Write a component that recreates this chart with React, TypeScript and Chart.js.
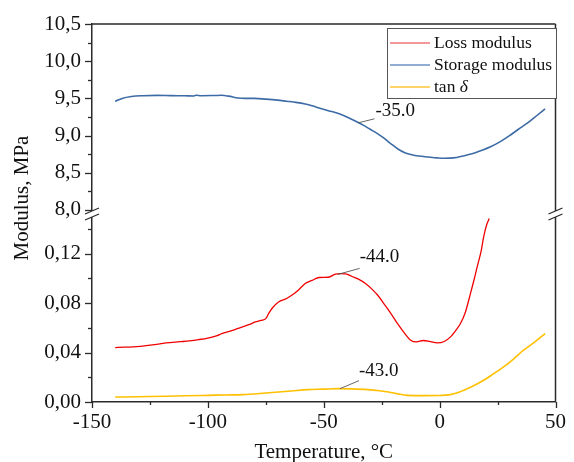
import { useEffect, useRef } from 'react';
import { Chart, registerables } from 'chart.js';

Chart.register(...registerables);

// ---- Data ----
const storageT = [-140, -137, -133, -128, -122, -116, -110, -106, -105, -103, -98, -94, -91, -87, -84, -80, -75, -70, -66, -62, -58, -55, -52, -48, -44, -40, -36, -33, -30, -27, -24, -21, -18, -15, -12, -9, -5, -1, 2, 6, 10, 14, 18, 22, 26, 30, 34, 38, 42, 45.5];
const storageValues = [9.46, 9.5, 9.525, 9.536, 9.54, 9.537, 9.535, 9.533, 9.542, 9.536, 9.538, 9.542, 9.53, 9.505, 9.5, 9.5, 9.49, 9.477, 9.462, 9.447, 9.425, 9.4, 9.372, 9.335, 9.3, 9.25, 9.19, 9.14, 9.085, 9.03, 8.965, 8.89, 8.82, 8.77, 8.742, 8.725, 8.712, 8.7, 8.695, 8.7, 8.725, 8.755, 8.8, 8.85, 8.915, 8.995, 9.085, 9.17, 9.27, 9.36];

const lossT = [-140, -136, -132, -129, -124, -118, -112, -108, -104, -100, -96, -94, -90, -87, -85, -82, -79.5, -77, -75, -73.5, -72, -69.5, -66, -63.8, -61, -58, -55, -52, -48, -45, -42.5, -40, -38, -35, -32, -29, -26.7, -24, -21, -18, -15, -12.5, -10, -7, -4, -1, 2, 4.7, 7, 9, 11, 13.3, 15, 16.2, 18, 19, 20.3, 21.4];
const lossValues = [0.0441, 0.0444, 0.0446, 0.0451, 0.0462, 0.0478, 0.0488, 0.0495, 0.0505, 0.0518, 0.0538, 0.0554, 0.0575, 0.0596, 0.0608, 0.0628, 0.0648, 0.066, 0.0675, 0.0725, 0.0765, 0.081, 0.0838, 0.0864, 0.0905, 0.0959, 0.0985, 0.1008, 0.101, 0.1035, 0.104, 0.1035, 0.1018, 0.0995, 0.0959, 0.091, 0.0864, 0.0795, 0.0716, 0.063, 0.0554, 0.05, 0.0486, 0.0498, 0.0488, 0.0478, 0.049, 0.0527, 0.058, 0.0635, 0.072, 0.0878, 0.1, 0.1094, 0.123, 0.1337, 0.1435, 0.1486];

const tanT = [-140, -130, -118, -110, -100, -92, -85, -75, -64, -57, -50, -44, -38, -31, -26, -22, -18, -14, -7, 0, 4.7, 8, 10.4, 14, 19, 23, 27.6, 32, 36.2, 41, 45.5];
const tanValues = [0.004, 0.0043, 0.0046, 0.005, 0.0054, 0.0057, 0.006, 0.0073, 0.0089, 0.01, 0.0104, 0.0108, 0.0106, 0.01, 0.0091, 0.0081, 0.0066, 0.0054, 0.0052, 0.0053, 0.006, 0.0077, 0.0095, 0.0125, 0.0176, 0.0225, 0.0284, 0.035, 0.0419, 0.0485, 0.0554];

const seriesLabels = ['Loss modulus', 'Storage modulus', 'tan δ'];

const xTicks = [-150, -100, -50, 0, 50];
const xMinorTicks = [-125, -75, -25, 25];
const yTopTicks = [8.0, 8.5, 9.0, 9.5, 10.0, 10.5];
const yTopMinorTicks = [8.25, 8.75, 9.25, 9.75, 10.25];
const yBotTicks = [0.0, 0.04, 0.08, 0.12];
const yBotMinorTicks = [0.02, 0.06, 0.1, 0.14];

// peak annotations: temperature, value at that temperature, text
const annotationT = [-35, -44, -43];
const annotationValues = [9.172, 0.1033, 0.0108];
const annotationTexts = ['-35.0', '-44.0', '-43.0'];
const annotationAxes = ['yTop', 'yBot', 'yBot'];

const FAMILY = "'Liberation Serif', 'Times New Roman', serif";
const COLORS = ['#f00000', '#3d6ba6', '#ffc000'];
const LEGEND_COLORS = ['#f07474', '#6e92c4', '#ffc73a'];
const AXIS_COLOR = '#2a2a2a';

const toXY = (t: number[], v: number[]) => t.map((x, i) => ({ x, y: v[i] }));

const framePlugin = {
  id: 'frameDecor',
  afterDraw(chart: any) {
    const { ctx, chartArea, scales } = chart;
    const { left, right, top, bottom } = chartArea;
    const sx = scales.x;
    const st = scales.yTop;
    const sb = scales.yBot;
    const breakY = st.bottom;
    ctx.save();

    // top and right frame lines
    ctx.strokeStyle = AXIS_COLOR;
    ctx.lineWidth = 1.5;
    ctx.beginPath();
    ctx.moveTo(left, top);
    ctx.lineTo(right, top);
    ctx.moveTo(right, top);
    ctx.lineTo(right, bottom);
    ctx.stroke();

    // tick marks (outward)
    ctx.lineWidth = 1.3;
    const vTick = (vals: number[], len: number) => {
      vals.forEach((v) => {
        const x = Math.round(sx.getPixelForValue(v)) + 0.5;
        ctx.beginPath();
        ctx.moveTo(x, bottom);
        ctx.lineTo(x, bottom + len);
        ctx.stroke();
      });
    };
    const hTick = (scale: any, vals: number[], len: number) => {
      vals.forEach((v) => {
        const y = Math.round(scale.getPixelForValue(v)) + 0.5;
        ctx.beginPath();
        ctx.moveTo(left, y);
        ctx.lineTo(left - len, y);
        ctx.stroke();
      });
    };
    vTick(xTicks, 6);
    vTick(xMinorTicks, 3);
    hTick(st, yTopTicks, 7);
    hTick(st, yTopMinorTicks, 4);
    hTick(sb, yBotTicks, 7);
    hTick(sb, yBotMinorTicks, 4);

    // axis break marks
    const drawBreak = (x: number) => {
      ctx.fillStyle = '#ffffff';
      ctx.fillRect(x - 3, breakY - 3, 6, 6);
      ctx.strokeStyle = AXIS_COLOR;
      ctx.lineWidth = 1.3;
      [breakY - 3, breakY + 3].forEach((yc) => {
        ctx.beginPath();
        ctx.moveTo(x - 7, yc + 3);
        ctx.lineTo(x + 7, yc - 3);
        ctx.stroke();
      });
    };
    drawBreak(left);
    drawBreak(right);

    // annotations
    const offsets = [
      { dx: 16, dy: -4, tx: 17, ty: -12 },
      { dx: 22, dy: -6, tx: 22, ty: -17 },
      { dx: 19, dy: -8, tx: 19, ty: -18 },
    ];
    ctx.font = `19px ${FAMILY}`;
    ctx.textBaseline = 'middle';
    ctx.textAlign = 'left';
    annotationT.forEach((t, i) => {
      const px = sx.getPixelForValue(t);
      const py = scales[annotationAxes[i]].getPixelForValue(annotationValues[i]);
      const o = offsets[i];
      ctx.strokeStyle = '#555';
      ctx.lineWidth = 0.9;
      ctx.beginPath();
      ctx.moveTo(px, py);
      ctx.lineTo(px + o.dx, py + o.dy);
      ctx.stroke();
      ctx.fillStyle = '#111';
      ctx.fillText(annotationTexts[i], px + o.tx, py + o.ty);
    });

    // legend
    const lx = 387.5, ly = 28.5, lw = 169, lh = 70;
    ctx.fillStyle = '#fff';
    ctx.fillRect(lx, ly, lw, lh);
    ctx.strokeStyle = '#555';
    ctx.lineWidth = 1;
    ctx.strokeRect(lx, ly, lw, lh);
    const rows = [43, 65, 87];
    ctx.font = `17.5px ${FAMILY}`;
    seriesLabels.forEach((label, i) => {
      ctx.strokeStyle = LEGEND_COLORS[i];
      ctx.lineWidth = 1.6;
      ctx.beginPath();
      ctx.moveTo(390, rows[i]);
      ctx.lineTo(430, rows[i]);
      ctx.stroke();
      ctx.fillStyle = '#111';
      if (label === 'tan δ') {
        ctx.font = `17.5px ${FAMILY}`;
        ctx.fillText('tan ', 434, rows[i]);
        const w = ctx.measureText('tan ').width;
        ctx.font = `italic 17.5px ${FAMILY}`;
        ctx.fillText('δ', 434 + w, rows[i]);
        ctx.font = `17.5px ${FAMILY}`;
      } else {
        ctx.fillText(label, 434, rows[i]);
      }
    });

    // y axis title
    ctx.save();
    ctx.translate(22, 198);
    ctx.rotate(-Math.PI / 2);
    ctx.font = `21px ${FAMILY}`;
    ctx.textAlign = 'center';
    ctx.textBaseline = 'middle';
    ctx.fillStyle = '#111';
    ctx.fillText('Modulus, MPa', 0, 0);
    ctx.restore();

    ctx.restore();
  },
};

export default function App() {
  const ref = useRef<HTMLCanvasElement>(null);
  useEffect(() => {
    document.body.style.margin = '0';
    const canvas = ref.current!;
    const tickFont = { family: FAMILY, size: 21 };
    const chart = new Chart(canvas, {
      type: 'line',
      data: {
        datasets: [
          { label: seriesLabels[0], data: toXY(lossT, lossValues), yAxisID: 'yBot', borderColor: COLORS[0], borderWidth: 1.3, pointRadius: 0, fill: false, cubicInterpolationMode: 'monotone' },
          { label: seriesLabels[1], data: toXY(storageT, storageValues), yAxisID: 'yTop', borderColor: COLORS[1], borderWidth: 1.6, pointRadius: 0, fill: false, cubicInterpolationMode: 'monotone' },
          { label: seriesLabels[2], data: toXY(tanT, tanValues), yAxisID: 'yBot', borderColor: COLORS[2], borderWidth: 1.6, pointRadius: 0, fill: false, cubicInterpolationMode: 'monotone' },
        ],
      },
      options: {
        animation: false,
        responsive: false,
        maintainAspectRatio: false,
        layout: { padding: { top: 24, right: 15, left: 0, bottom: 0 } },
        plugins: { legend: { display: false }, tooltip: { enabled: false } },
        scales: {
          x: {
            type: 'linear',
            position: 'bottom',
            min: -150,
            max: 50,
            grid: { display: false, drawTicks: false },
            border: { display: true, color: AXIS_COLOR, width: 1.5 },
            ticks: { font: tickFont, color: '#111', padding: 8, autoSkip: false, maxRotation: 0 },
            afterBuildTicks: (s: any) => { s.ticks = xTicks.map((v) => ({ value: v })); },
            afterFit: (s: any) => { s.height = 60; },
            title: { display: true, text: 'Temperature, °C', color: '#111', font: { family: FAMILY, size: 21, lineHeight: 1 }, padding: { top: 0, bottom: -1 } },
          },
          yBot: {
            type: 'linear',
            position: 'left',
            stack: 'modulus',
            stackWeight: 188,
            min: 0,
            max: 0.1522,
            grid: { display: false, drawTicks: false },
            border: { display: true, color: AXIS_COLOR, width: 1.5 },
            ticks: { font: tickFont, color: '#111', padding: 11, autoSkip: false, callback: (v: any) => Number(v).toFixed(2).replace('.', ',') },
            afterBuildTicks: (s: any) => { s.ticks = yBotTicks.map((v) => ({ value: v })); },
            afterFit: (s: any) => { s.width = 92; },
          },
          yTop: {
            type: 'linear',
            position: 'left',
            stack: 'modulus',
            stackWeight: 190,
            min: 7.946,
            max: 10.5,
            grid: { display: false, drawTicks: false },
            border: { display: true, color: AXIS_COLOR, width: 1.5 },
            ticks: { font: tickFont, color: '#111', padding: 11, autoSkip: false, callback: (v: any) => Number(v).toFixed(1).replace('.', ',') },
            afterBuildTicks: (s: any) => { s.ticks = yTopTicks.map((v) => ({ value: v })); },
            afterFit: (s: any) => { s.width = 92; },
          },
        },
      } as any,
      plugins: [framePlugin],
    });
    return () => chart.destroy();
  }, []);
  return (
    <div style={{ position: 'fixed', left: 0, top: 0, width: 574, height: 462 }}>
      <canvas ref={ref} width={574} height={462} style={{ width: 574, height: 462, display: 'block' }} />
    </div>
  );
}
